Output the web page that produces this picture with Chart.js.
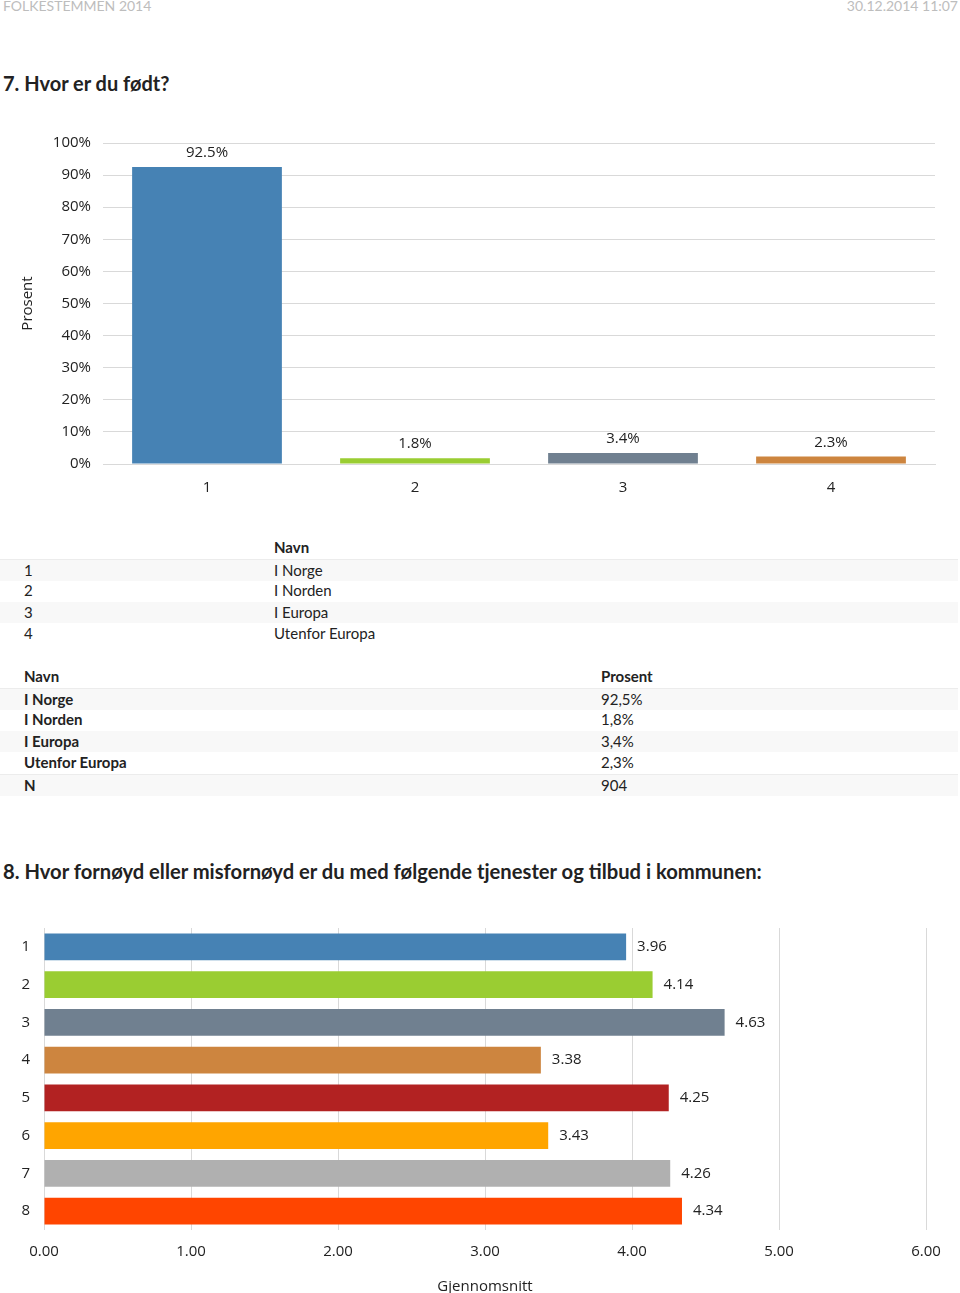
<!DOCTYPE html>
<html>
<head>
<meta charset="utf-8">
<script src="https://cdn.jsdelivr.net/npm/chart.js@4"></script>
<style>
  body { margin: 0; width: 960px; height: 1293px; position: relative; overflow: hidden; background: #fff; font-family: Lato, "Open Sans", sans-serif; color: #222; }
  .abs { position: absolute; }
  .hdr { font-size: 14px; color: #bdbdbd; top: -3px; }
  .qtitle { font-weight: bold; font-size: 20px; left: 3px; }
  .row { position: absolute; left: 0; width: 958px; height: 21.5px; line-height: 21.5px; font-size: 15px; }
  .row span { position: absolute; white-space: nowrap; }
  .stripe { background: #f8f8f8; }
  .line { border-top: 1px solid #ececec; }
  .b { font-weight: bold; }
</style>
</head>
<body>
<div class="abs hdr" style="left:3px;">FOLKESTEMMEN 2014</div>
<div class="abs hdr" style="right:2px;">30.12.2014 11:07</div>

<div class="abs qtitle" style="top:71px;">7. Hvor er du født?</div>
<div class="abs" style="left:0; top:122px; width:960px; height:378px;"><canvas id="birthChart"></canvas></div>

<div id="legendTable"></div>
<div id="resultTable"></div>

<div class="abs qtitle" style="top:859px; font-size:20.2px;">8. Hvor fornøyd eller misfornøyd er du med følgende tjenester og tilbud i kommunen:</div>
<div class="abs" style="left:0; top:905px; width:960px; height:388px;"><canvas id="serviceChart"></canvas></div>

<script>
// --- data: spm. 7 ---
const birthCategories = ["1", "2", "3", "4"];
const birthNames = ["I Norge", "I Norden", "I Europa", "Utenfor Europa"];
const birthPercent = [92.5, 1.8, 3.4, 2.3];
const birthN = 904;
const birthColors = ["#4682b4", "#9acd32", "#708090", "#cd853f"];

// --- data: spm. 8 ---
const serviceCategories = ["1", "2", "3", "4", "5", "6", "7", "8"];
const serviceMeans = [3.96, 4.14, 4.63, 3.38, 4.25, 3.43, 4.26, 4.34];
const serviceColors = ["#4682b4", "#9acd32", "#708090", "#cd853f", "#b22222", "#ffa500", "#b0b0b0", "#ff4500"];

const gridColor = "#d9d9d9";
const textColor = "#222";
const chartFont = { family: "'Open Sans'", size: 15 };

// verdi-etiketter over / ved siden av stolpene
function valueLabels(format) {
  return {
    id: "valueLabels",
    afterDatasetsDraw(chart) {
      const ctx = chart.ctx;
      const meta = chart.getDatasetMeta(0);
      const values = chart.data.datasets[0].data;
      ctx.save();
      ctx.font = "15px 'Open Sans'";
      ctx.fillStyle = textColor;
      ctx.textBaseline = "middle";
      meta.data.forEach((bar, i) => {
        const txt = format(values[i]);
        if (chart.options.indexAxis === "y") {
          ctx.textAlign = "left";
          ctx.fillText(txt, bar.x + 11, bar.y);
        } else {
          ctx.textAlign = "center";
          ctx.fillText(txt, bar.x, bar.y - 14);
        }
      });
      ctx.restore();
    }
  };
}

// === Spm. 7: Hvor er du født? ===
new Chart(document.getElementById("birthChart"), {
  type: "bar",
  data: {
    labels: birthCategories,
    datasets: [{
      data: birthPercent,
      backgroundColor: birthColors,
      categoryPercentage: 0.8,
      barPercentage: 0.9
    }]
  },
  options: {
    responsive: true,
    maintainAspectRatio: false,
    animation: false,
    layout: { padding: { top: 4, right: 25, left: 0, bottom: 0 } },
    plugins: { legend: { display: false }, tooltip: { enabled: false } },
    scales: {
      x: {
        grid: { display: false, drawTicks: false },
        border: { color: gridColor },
        ticks: { color: textColor, font: chartFont, padding: 15 },
        afterFit: (s) => { s.height = 36; }
      },
      y: {
        min: 0,
        max: 100,
        ticks: { stepSize: 10, color: textColor, font: chartFont, padding: 12, callback: (v) => v + "%" },
        grid: { color: gridColor, drawTicks: false },
        border: { display: false },
        title: { display: true, text: "Prosent", color: textColor, font: chartFont, padding: { top: 19, bottom: 0 } },
        afterFit: (s) => { s.width = 103; }
      }
    }
  },
  plugins: [valueLabels((v) => v.toFixed(1) + "%")]
});

// === tabeller ===
function addRow(parent, top, cls, cells) {
  const row = document.createElement("div");
  row.className = "row " + cls;
  row.style.top = top + "px";
  cells.forEach(([x, text, bold]) => {
    const s = document.createElement("span");
    s.style.left = x + "px";
    if (bold) s.className = "b";
    s.textContent = text;
    row.appendChild(s);
  });
  parent.appendChild(row);
}

const legendTable = document.getElementById("legendTable");
addRow(legendTable, 537, "", [[274, "Navn", true]]);
birthNames.forEach((name, i) => {
  addRow(legendTable, 558.5 + i * 21.5, (i % 2 === 0 ? "stripe " : "") + (i === 0 ? "line" : ""),
    [[24, birthCategories[i]], [274, name]]);
});

const resultTable = document.getElementById("resultTable");
addRow(resultTable, 666, "", [[24, "Navn", true], [601, "Prosent", true]]);
birthNames.forEach((name, i) => {
  addRow(resultTable, 687.5 + i * 21.5, (i % 2 === 0 ? "stripe " : "") + (i === 0 ? "line" : ""),
    [[24, name, true], [601, birthPercent[i].toFixed(1).replace(".", ",") + "%"]]);
});
addRow(resultTable, 687.5 + 4 * 21.5, "stripe line", [[24, "N", true], [601, String(birthN)]]);

// === Spm. 8: fornøydhet med tjenester ===
new Chart(document.getElementById("serviceChart"), {
  type: "bar",
  data: {
    labels: serviceCategories,
    datasets: [{
      data: serviceMeans,
      backgroundColor: serviceColors,
      categoryPercentage: 0.8,
      barPercentage: 0.89
    }]
  },
  options: {
    indexAxis: "y",
    responsive: true,
    maintainAspectRatio: false,
    animation: false,
    layout: { padding: { top: 13, right: 34, left: 0, bottom: 0 } },
    plugins: { legend: { display: false }, tooltip: { enabled: false } },
    scales: {
      x: {
        min: 0,
        max: 6,
        ticks: { stepSize: 1, color: textColor, font: chartFont, padding: 13, callback: (v) => v.toFixed(2) },
        grid: { color: gridColor, drawTicks: false },
        border: { display: false },
        title: { display: true, text: "Gjennomsnitt", color: textColor, font: chartFont, padding: { top: 0, bottom: -3 } },
        afterFit: (s) => { s.height = 63; }
      },
      y: {
        grid: { display: false, drawTicks: false },
        border: { display: false },
        ticks: { color: textColor, font: chartFont, padding: 14 },
        afterFit: (s) => { s.width = 44; }
      }
    }
  },
  plugins: [valueLabels((v) => v.toFixed(2))]
});
</script>
</body>
</html>
